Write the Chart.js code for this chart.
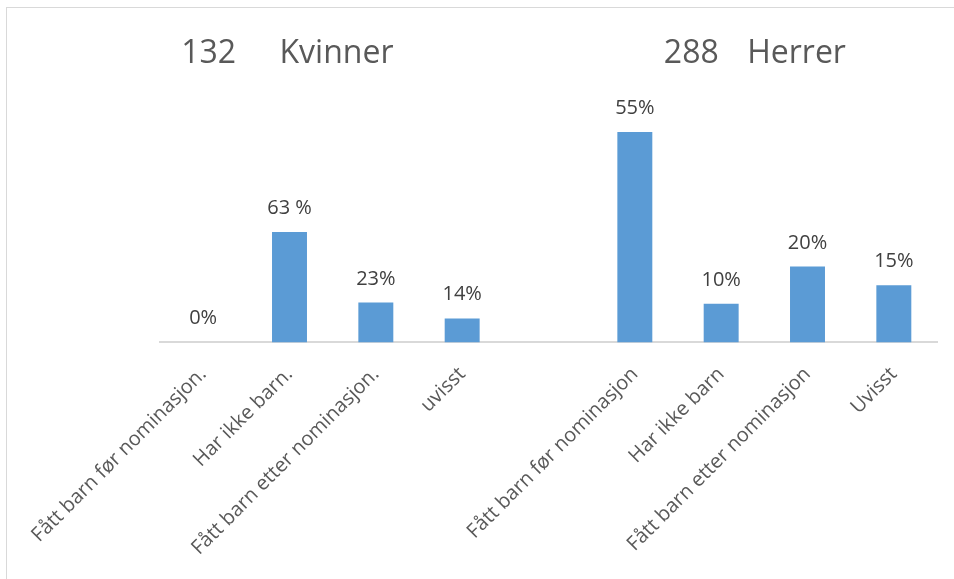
<!DOCTYPE html>
<html>
<head>
<meta charset="utf-8">
<script src="https://cdn.jsdelivr.net/npm/chart.js@4"></script>
<style>
  html, body { margin: 0; padding: 0; background: #fff; }
  #wrap { width: 954px; height: 579px; }
</style>
</head>
<body>
<div id="wrap"><canvas id="barn-chart" width="954" height="579"></canvas></div>
<script>
var categories = [
  'Fått barn før nominasjon.', 'Har ikke barn.', 'Fått barn etter nominasjon.', 'uvisst',
  '',
  'Fått barn før nominasjon', 'Har ikke barn', 'Fått barn etter nominasjon', 'Uvisst'
];
// antall personer per kategori (kvinner, tom plass, herrer)
var counts = [0, 83, 30, 18, null, 158, 29, 57, 43];
var percentLabels = ['0%', '63 %', '23%', '14%', '', '55%', '10%', '20%', '15%'];
var groupTotals = [132, 288];
var groupNames = ['Kvinner', 'Herrer'];

var FONT = "'Open Sans', 'DejaVu Sans', sans-serif";

var extras = {
  id: 'extras',
  beforeDraw: function (chart) {
    var c = chart.ctx;
    c.save();
    c.strokeStyle = '#d9d9d9';
    c.lineWidth = 1;
    c.strokeRect(6.5, 7.5, 1200, 1200);
    c.restore();
  },
  afterDatasetsDraw: function (chart) {
    var c = chart.ctx;
    var meta = chart.getDatasetMeta(0);
    c.save();
    c.font = '20px ' + FONT;
    c.fillStyle = '#404040';
    c.textAlign = 'center';
    c.textBaseline = 'alphabetic';
    meta.data.forEach(function (bar, i) {
      if (!percentLabels[i]) return;
      c.fillText(percentLabels[i], bar.x, bar.y - 18);
    });

    // gruppetitler
    var x = chart.scales.x;
    c.font = '32px ' + FONT;
    c.fillStyle = '#595959';
    c.textAlign = 'left';
    c.fillText(String(groupTotals[0]), x.getPixelForValue(0) - 22, 63);
    c.fillText(groupNames[0], x.getPixelForValue(1) - 10, 63);
    c.fillText(String(groupTotals[1]), x.getPixelForValue(5) + 29, 63);
    c.fillText(groupNames[1], x.getPixelForValue(6) + 26, 63);
    c.restore();
  }
};

new Chart(document.getElementById('barn-chart').getContext('2d'), {
  type: 'bar',
  data: {
    labels: categories,
    datasets: [{
      data: counts,
      backgroundColor: '#5b9bd5',
      barPercentage: 0.405,
      categoryPercentage: 1
    }]
  },
  options: {
    responsive: false,
    animation: false,
    layout: { padding: { left: 160, right: 17, top: 76, bottom: 7 } },
    plugins: {
      legend: { display: false },
      tooltip: { enabled: false }
    },
    scales: {
      x: {
        grid: { display: false },
        border: { display: true, color: '#d9d9d9', width: 2 },
        ticks: {
          autoSkip: false,
          minRotation: 45,
          maxRotation: 45,
          color: '#595959',
          font: { family: FONT, size: 20 },
          padding: 12
        }
      },
      y: {
        display: false,
        min: 0,
        max: 200
      }
    }
  },
  plugins: [extras]
});
</script>
</body>
</html>
